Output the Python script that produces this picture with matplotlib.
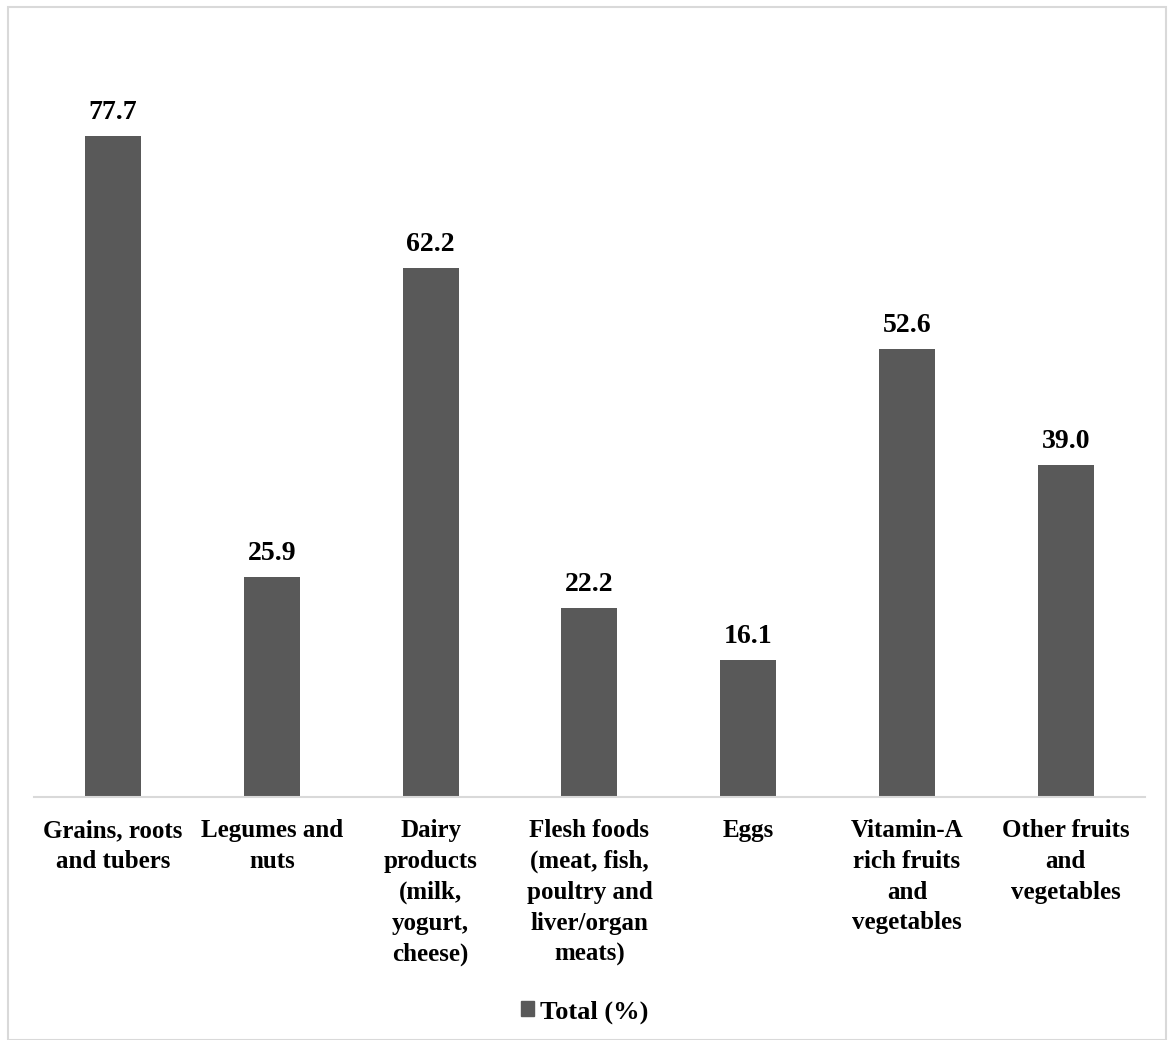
import numpy as np
import matplotlib.pyplot as plt
import matplotlib.patches as mpatches

categories = ['Grains, roots\nand tubers', 'Legumes and\nnuts',
              'Dairy\nproducts\n(milk,\nyogurt,\ncheese)',
              'Flesh foods\n(meat, fish,\npoultry and\nliver/organ\nmeats)',
              'Eggs', 'Vitamin-A\nrich fruits\nand\nvegetables',
              'Other fruits\nand\nvegetables']
totals = [77.7, 25.9, 62.2, 22.2, 16.1, 52.6, 39.0]

bar_color = '#595959'
plt.rcParams['font.family'] = ['Liberation Serif', 'DejaVu Serif']
plt.rcParams['font.weight'] = 'bold'

fig = plt.figure(figsize=(11.69, 10.4), dpi=100)
ax = fig.add_axes([0.0287, 0.2337, 0.951, 0.7362])

x = np.arange(len(categories))
bars = ax.bar(x, totals, 0.353, color=bar_color, label='Total (%)')

for xi, v in zip(x, totals):
    ax.annotate('{0:.1f}'.format(v), (xi, v), xytext=(0, 8),
                textcoords='offset points', ha='center', va='bottom',
                fontsize=20, fontweight='bold')

ax.set_xlim(-0.5, len(categories) - 0.5)
ax.set_ylim(0, 90)
ax.set_xticks(x)
ax.set_xticklabels(categories, fontsize=18, fontweight='bold', linespacing=1.43)
ax.tick_params(axis='x', length=0, pad=16)
ax.set_yticks([])
for s in ['top', 'right', 'left']:
    ax.spines[s].set_visible(False)
ax.spines['bottom'].set_color('#d9d9d9')
ax.spines['bottom'].set_linewidth(1.5)

handle = mpatches.Patch(color=bar_color, label='Total (%)')
fig.legend(handles=[handle], loc='center', bbox_to_anchor=(0.5, 0.027),
           frameon=False, prop={'size': 19, 'weight': 'bold'},
           handlelength=0.5, handleheight=0.5, handletextpad=0.2)

border = mpatches.Rectangle((8 / 1169, 0.0), 1158 / 1169, 1 - 7 / 1040,
                            transform=fig.transFigure, fill=False,
                            edgecolor='#d9d9d9', linewidth=1.5)
fig.patches.append(border)

fig.savefig('out.png', dpi=100)
